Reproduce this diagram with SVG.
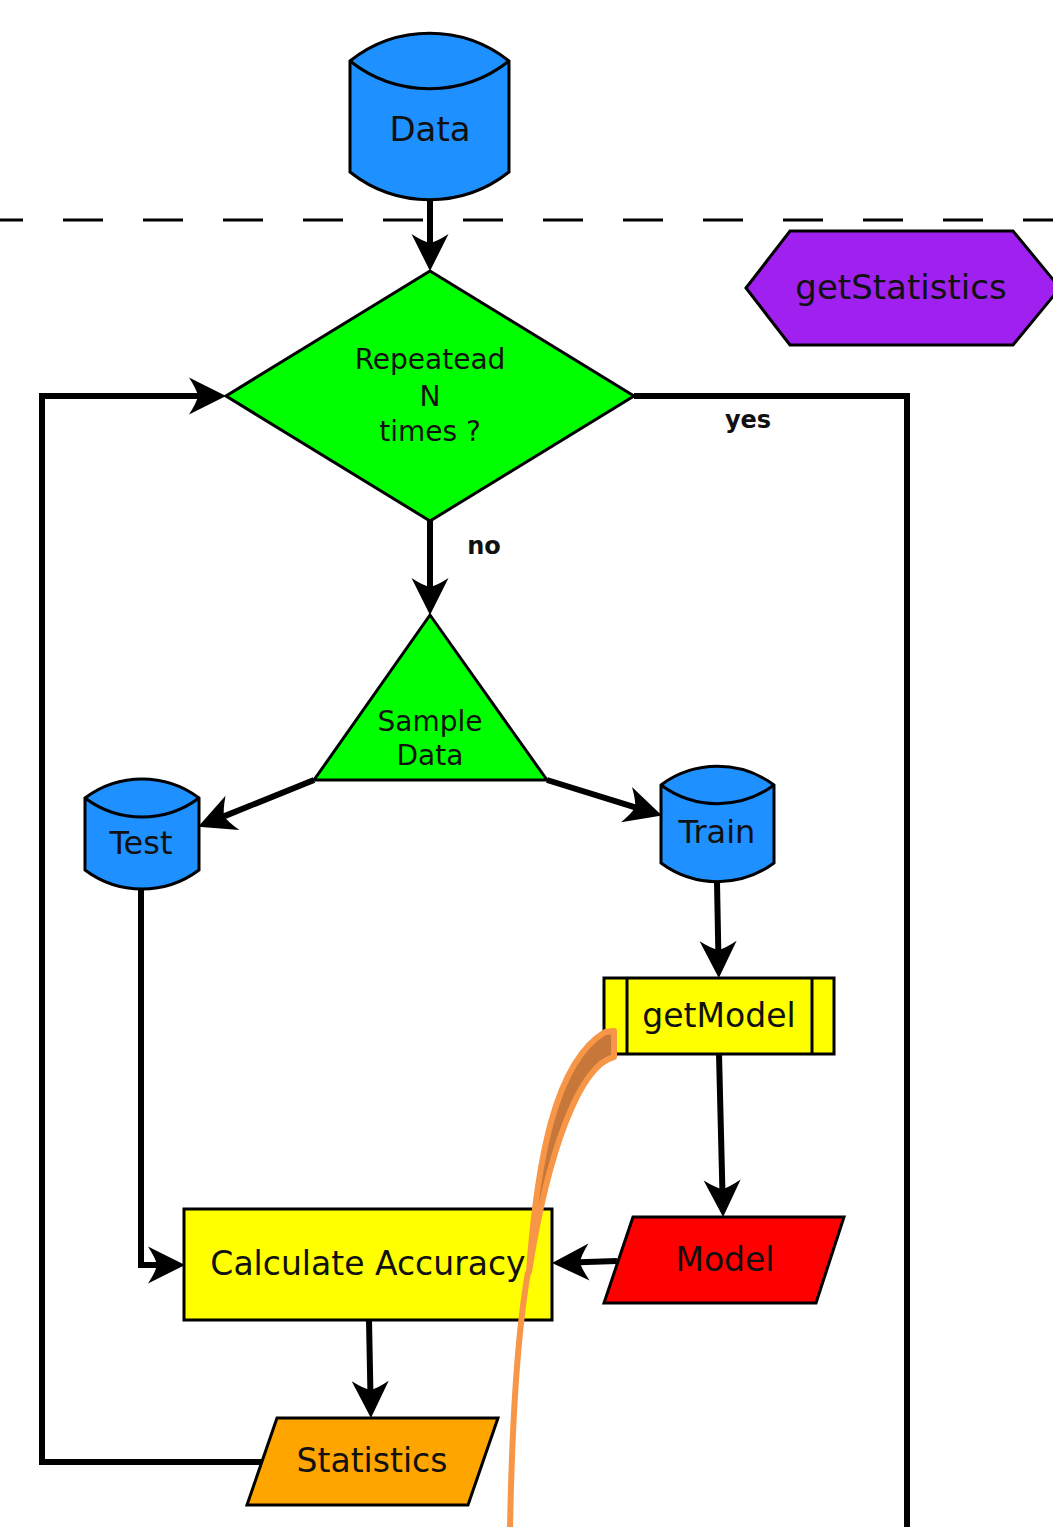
<svg xmlns="http://www.w3.org/2000/svg" width="1053" height="1527" viewBox="0 0 1053 1527">
  <style>
    .node { stroke: #000; stroke-width: 3; stroke-linejoin: miter; }
    .store { fill: #1e90ff; }
    .decision { fill: #00ff00; }
    .proc { fill: #ffff00; }
    .label { font-family: "DejaVu Sans", "Liberation Sans", sans-serif; fill: #111; text-anchor: middle; dominant-baseline: central; }
    .big { font-size: 33px; }
    .small { font-size: 28px; }
    .tag { font-family: "DejaVu Sans", "Liberation Sans", sans-serif; font-weight: bold; font-size: 24px; fill: #111; }
    .wire { fill: none; stroke: #000; stroke-width: 6; }
    .wire.arrow { marker-end: url(#head); }
  </style>
  <defs>
    <marker id="head" markerUnits="userSpaceOnUse" markerWidth="80" markerHeight="80" refX="0" refY="0" orient="auto" overflow="visible">
      <path d="M 27 0 L -10 -18.5 Q -2 -6 -1 0 Q -2 6 -10 18.5 Z" fill="#000"/>
    </marker>
  </defs>

  <!-- boundary between input and procedure -->
  <line x1="0" y1="220" x2="1053" y2="220" stroke="#000" stroke-width="3" stroke-dasharray="40 40" stroke-dashoffset="17"/>

  <!-- connectors -->
  <g id="connectors">
    <path class="wire arrow" d="M 430 200 V 244"/>
    <path class="wire arrow" d="M 430 521 V 588"/>
    <path class="wire arrow" d="M 262 1462 H 42 V 396 H 199"/>
    <path class="wire" d="M 634 396 H 907 V 1530"/>
    <path class="wire arrow" d="M 314 780 L 223.2 816.6"/>
    <path class="wire arrow" d="M 547 780 L 636.1 807.6"/>
    <path class="wire arrow" d="M 141 888 V 1265 H 158"/>
    <path class="wire arrow" d="M 717 882 L 718.3 951"/>
    <path class="wire arrow" d="M 719 1054 L 722.4 1190"/>
    <path class="wire arrow" d="M 617 1261 L 579 1262.2"/>
    <path class="wire arrow" d="M 369 1320 L 370.4 1391"/>
    <text class="tag" x="748" y="428" text-anchor="middle">yes</text>
    <text class="tag" x="484" y="554" text-anchor="middle">no</text>
  </g>

  <g id="data">
    <path class="node store" d="M 350 61 A 128 128 0 0 1 509 61 V 172 A 128 128 0 0 1 350 172 Z"/>
    <path class="node" fill="none" d="M 350 61 A 128 128 0 0 0 509 61"/>
    <text class="label" x="430" y="129" style="font-size:34px">Data</text>
  </g>

  <g id="getStatistics">
    <path class="node" fill="#a020f0" d="M 746 288 L 790 231 H 1013 L 1060 288 L 1013 345 H 790 Z"/>
    <text class="label" x="901" y="287" style="font-size:34px">getStatistics</text>
  </g>

  <g id="repeat">
    <path class="node decision" d="M 430 271 L 634 396 L 430 521 L 226 396 Z"/>
    <text class="label small" x="430" y="359">Repeatead</text>
    <text class="label small" x="430" y="396">N</text>
    <text class="label small" x="430" y="431">times ?</text>
  </g>

  <g id="sample">
    <path class="node decision" d="M 430 615 L 547 780 H 314 Z"/>
    <text class="label small" x="430" y="721">Sample</text>
    <text class="label small" x="430" y="755">Data</text>
  </g>

  <g id="test">
    <path class="node store" d="M 85 798 A 95 95 0 0 1 199 798 V 870 A 95 95 0 0 1 85 870 Z"/>
    <path class="node" fill="none" d="M 85 798 A 95 95 0 0 0 199 798"/>
    <text class="label" x="141" y="843" style="font-size:32px">Test</text>
  </g>

  <g id="train">
    <path class="node store" d="M 661 785 A 95 95 0 0 1 774 785 V 863 A 95 95 0 0 1 661 863 Z"/>
    <path class="node" fill="none" d="M 661 785 A 95 95 0 0 0 774 785"/>
    <text class="label" x="717" y="832" style="font-size:32px">Train</text>
  </g>

  <g id="getModel">
    <rect class="node proc" x="604" y="978" width="230" height="76"/>
    <line class="node" x1="627" y1="978" x2="627" y2="1054"/>
    <line class="node" x1="812" y1="978" x2="812" y2="1054"/>
    <text class="label big" x="719" y="1015">getModel</text>
  </g>

  <g id="model">
    <path class="node" fill="#ff0000" d="M 633 1217 H 844 L 816 1303 H 604 Z"/>
    <text class="label big" x="725" y="1259">Model</text>
  </g>

  <g id="accuracy">
    <rect class="node proc" x="184" y="1209" width="368" height="111"/>
    <text class="label big" x="368" y="1263">Calculate Accuracy</text>
  </g>

  <g id="statistics">
    <path class="node" fill="#ffa500" d="M 277 1418 H 498 L 468 1505 H 247 Z"/>
    <text class="label big" x="372" y="1460">Statistics</text>
  </g>

  <!-- freehand orange stroke drawn over the chart -->
  <g id="stroke">
    <path d="M 510 1530 C 512 1420 518 1330 528 1272" fill="none" stroke="#f79646" stroke-width="6"/>
    <path d="M 605 1032 L 614 1031 L 614 1057 C 580 1065 548 1150 529 1272 C 537 1160 555 1062 605 1032 Z" fill="#c8773a" stroke="#f79646" stroke-width="6" stroke-linejoin="round"/>
  </g>
</svg>
